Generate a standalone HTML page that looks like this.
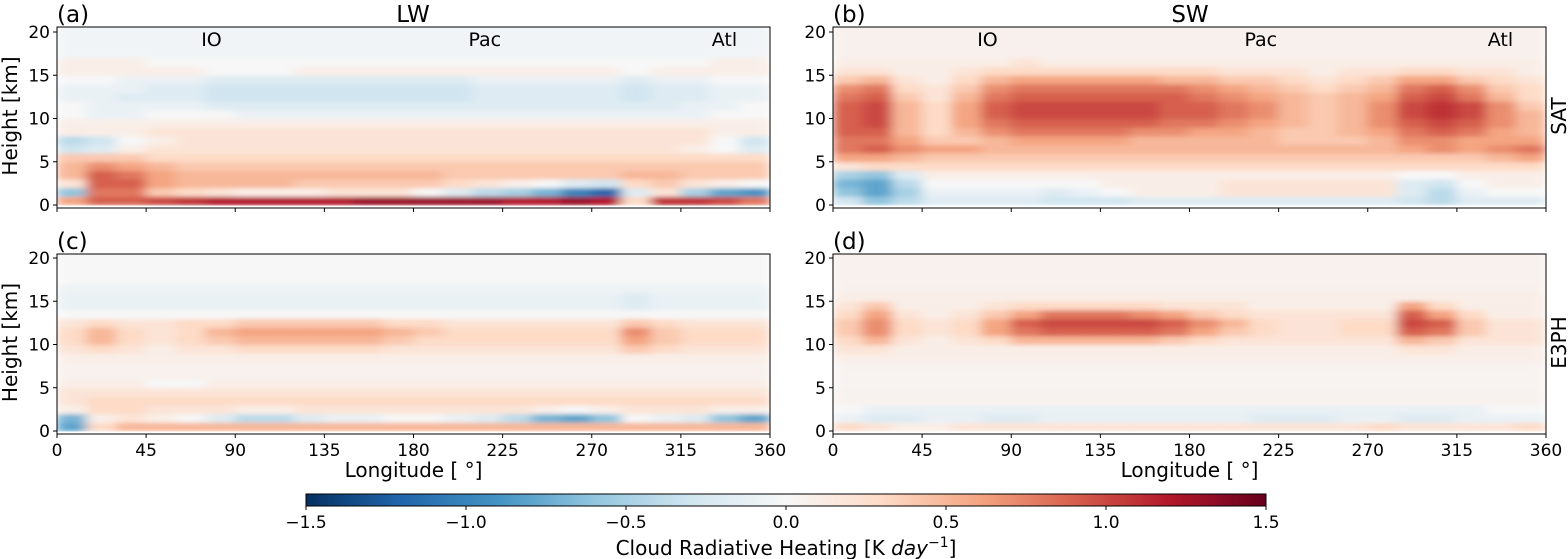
<!DOCTYPE html>
<html><head><meta charset="utf-8">
<style>
html,body{margin:0;padding:0;background:#fff;}
svg{display:block;font-family:"DejaVu Sans","Liberation Sans",sans-serif;}
</style></head>
<body>
<svg id="fig" width="1568" height="559" viewBox="0 0 1568 559" xmlns="http://www.w3.org/2000/svg">
<defs>
<filter id="blur" x="0" y="0" width="1" height="1"><feGaussianBlur stdDeviation="6 2" edgeMode="duplicate"/></filter>
<linearGradient id="cbgrad" x1="0" x2="1" y1="0" y2="0">
<stop offset="0" stop-color="#053061"/><stop offset="0.1" stop-color="#2166ac"/><stop offset="0.2" stop-color="#4393c3"/><stop offset="0.3" stop-color="#92c5de"/><stop offset="0.4" stop-color="#d1e5f0"/><stop offset="0.5" stop-color="#f7f7f7"/><stop offset="0.6" stop-color="#fddbc7"/><stop offset="0.7" stop-color="#f4a582"/><stop offset="0.8" stop-color="#d6604d"/><stop offset="0.9" stop-color="#b2182b"/><stop offset="1" stop-color="#67001f"/>
</linearGradient>
</defs>
<g id="layer"></g>
</svg>
<script>
// Longitude bin starts (degrees), 15-degree bins
const lonBins = [0,15,30,45,60,75,90,105,120,135,150,165,180,195,210,225,240,255,270,285,300,315,330,345];
// Height bin starts (km), 1-km bins
const heightBins = [0,1,2,3,4,5,6,7,8,9,10,11,12,13,14,15,16,17,18,19,20];
const xTicks = [0,45,90,135,180,225,270,315,360];
const yTicks = [0,5,10,15,20];
const cbTicks = [-1.5,-1.0,-0.5,0.0,0.5,1.0,1.5];
const cbTickLabels = ["\u22121.5","\u22121.0","\u22120.5","0.0","0.5","1.0","1.5"];
// values in tenths of K/day, rows from 0 km upward
const lwSat = [
[6,9,9,10,11,12,12,12,12,12,13,13,13,13,13,12,12,13,12,3,11,11,10,8],
[-6,8,8,4,3,2,1,1,1,2,2,2,0,-2,-4,-5,-7,-10,-12,-2,2,-5,-8,-9],
[2,9,9,6,5,5,5,5,4,4,4,4,4,3,2,1,0,-2,-3,3,4,2,1,0],
[5,9,8,6,5,5,5,5,5,5,5,5,5,4,4,4,4,4,4,5,5,4,4,4],
[5,7,6,5,4,4,4,4,4,4,4,4,4,4,4,4,4,4,4,4,4,4,4,4],
[4,4,4,3,3,3,3,3,3,3,3,3,3,3,3,3,3,3,3,3,3,3,3,3],
[-3,-2,1,2,2,2,2,2,2,2,2,2,2,2,2,2,2,2,2,2,2,1,0,-2],
[-4,-3,0,1,2,2,2,2,2,2,2,2,2,2,2,2,2,2,2,2,2,2,0,-3],
[1,1,1,2,2,2,2,2,2,2,2,2,2,2,2,2,2,2,2,2,2,2,1,1],
[1,1,1,1,1,1,1,1,1,1,1,1,1,1,1,1,1,1,1,1,1,1,1,1],
[0,-1,-1,0,0,0,-1,-1,-1,-1,-1,-1,-1,-1,-1,-1,-1,-1,-1,-1,-1,-1,0,0],
[0,-1,-1,-1,-1,-2,-2,-2,-2,-2,-2,-2,-2,-2,-2,-2,-2,-2,-2,-2,-2,-1,-1,0],
[-1,-1,-2,-2,-2,-3,-3,-3,-3,-3,-3,-3,-3,-3,-2,-2,-2,-2,-2,-3,-2,-2,-1,-1],
[-1,-1,-1,-2,-2,-3,-3,-3,-3,-3,-3,-3,-3,-3,-2,-2,-2,-2,-2,-3,-2,-2,-1,-1],
[0,0,-1,-1,-1,-2,-2,-2,-2,-2,-2,-2,-2,-2,-1,-1,-1,-1,-1,-2,-1,-1,0,0],
[1,1,1,1,1,0,0,0,1,1,1,1,1,1,1,1,1,1,1,0,1,1,1,1],
[1,1,1,0,0,0,0,0,0,0,0,0,0,0,0,0,0,0,0,0,0,0,1,1],
[-0.5,-0.5,-0.5,-0.5,-0.5,-0.5,-0.5,-0.5,-0.5,-0.5,-0.5,-0.5,-0.5,-0.5,-0.5,-0.5,-0.5,-0.5,-0.5,-0.5,-0.5,-0.5,-0.5,-0.5],
[-0.5,-0.5,-0.5,-0.5,-0.5,-0.5,-0.5,-0.5,-0.5,-0.5,-0.5,-0.5,-0.5,-0.5,-0.5,-0.5,-0.5,-0.5,-0.5,-0.5,-0.5,-0.5,-0.5,-0.5],
[-0.5,-0.5,-0.5,-0.5,-0.5,-0.5,-0.5,-0.5,-0.5,-0.5,-0.5,-0.5,-0.5,-0.5,-0.5,-0.5,-0.5,-0.5,-0.5,-0.5,-0.5,-0.5,-0.5,-0.5],
[-0.5,-0.5,-0.5,-0.5,-0.5,-0.5,-0.5,-0.5,-0.5,-0.5,-0.5,-0.5,-0.5,-0.5,-0.5,-0.5,-0.5,-0.5,-0.5,-0.5,-0.5,-0.5,-0.5,-0.5]
];
const swSat = [
[-3,-6,-4,-2,-2,-2,-2,-3,-3,-3,-2,-2,-2,-2,-2,-2,-2,-2,-2,-3,-4,-2,-2,-2],
[-6,-8,-5,-1,-1,-1,-1,-2,-1,0,1,1,1,2,2,2,2,2,2,-2,-4,-1,0,0],
[-7,-8,-4,0,0,0,0,0,0,1,1,1,1,2,2,2,2,2,2,-2,-3,0,1,1],
[-5,-6,-2,1,1,1,1,1,1,1,1,1,1,1,1,1,1,1,1,0,0,1,1,1],
[2,3,3,3,3,3,3,3,3,3,3,3,3,3,3,3,3,3,3,3,3,3,3,3],
[6,6,5,4,4,4,4,4,4,4,4,4,4,4,4,4,4,4,4,4,4,4,5,6],
[8,9,7,6,6,5,5,5,5,5,5,5,5,5,5,5,5,5,5,6,7,6,7,8],
[8,8,6,4,4,5,6,6,6,6,5,5,5,5,5,4,4,4,5,7,7,6,6,6],
[9,9,5,3,5,7,8,8,8,8,7,7,6,6,5,4,4,5,6,8,9,8,6,5],
[9,10,5,3,6,8,9,9,9,9,9,8,8,7,6,5,4,5,7,9,10,9,7,5],
[9,10,5,3,6,9,10,10,10,10,10,9,9,8,7,5,4,5,7,10,11,10,7,5],
[9,10,5,3,6,9,10,10,10,10,10,9,9,8,7,5,4,5,7,10,11,10,7,4],
[8,9,4,2,5,8,9,9,9,9,9,9,8,7,6,5,4,5,6,9,10,8,5,3],
[7,8,3,2,4,7,8,8,8,8,8,8,7,6,5,4,3,4,5,8,9,7,4,3],
[4,5,2,1,3,5,6,6,6,6,6,5,5,4,4,3,2,3,4,6,6,4,3,2],
[2,2,1,1,2,3,3,3,3,3,3,3,3,2,2,2,1,2,2,3,3,2,2,1],
[1,1,1,1,1,1,2,1,1,1,1,1,1,1,1,1,1,1,1,1,1,1,1,1],
[0.7,0.7,0.7,0.7,0.7,0.7,0.7,0.7,0.7,0.7,0.7,0.7,0.7,0.7,0.7,0.7,0.7,0.7,0.7,0.7,0.7,0.7,0.7,0.7],
[0.7,0.7,0.7,0.7,0.7,0.7,0.7,0.7,0.7,0.7,0.7,0.7,0.7,0.7,0.7,0.7,0.7,0.7,0.7,0.7,0.7,0.7,0.7,0.7],
[0.7,0.7,0.7,0.7,0.7,0.7,0.7,0.7,0.7,0.7,0.7,0.7,0.7,0.7,0.7,0.7,0.7,0.7,0.7,0.7,0.7,0.7,0.7,0.7],
[0.7,0.7,0.7,0.7,0.7,0.7,0.7,0.7,0.7,0.7,0.7,0.7,0.7,0.7,0.7,0.7,0.7,0.7,0.7,0.7,0.7,0.7,0.7,0.7]
];
const lwE3 = [
[-8,3,5,5,5,5,5,5,5,5,5,5,5,5,5,5,5,5,5,5,5,5,5,5],
[-7,1,2,1,0,-2,-4,-4,-2,-1,-1,0,0,-1,-2,-4,-7,-8,-6,0,-1,-2,-6,-8],
[1,3,3,2,2,2,1,1,2,2,2,2,2,2,2,2,1,0,1,2,2,2,1,1],
[2,3,3,3,3,3,3,3,3,3,3,3,3,3,3,3,3,3,3,3,3,3,3,3],
[2,2,2,2,2,2,2,2,2,2,2,2,2,2,2,2,2,2,2,2,2,2,2,2],
[1,1,1,0,0,1,1,1,1,1,1,1,1,1,1,1,1,1,1,1,1,1,1,1],
[0.6,0.6,0.6,0.6,0.6,0.6,0.6,0.6,0.6,0.6,0.6,0.6,0.6,0.6,0.6,0.6,0.6,0.6,0.6,0.6,0.6,0.6,0.6,0.6],
[0.6,0.6,0.6,0.6,0.6,0.6,0.6,0.6,0.6,0.6,0.6,0.6,0.6,0.6,0.6,0.6,0.6,0.6,0.6,0.6,0.6,0.6,0.6,0.6],
[1,1,1,1,1,1,1,1,1,1,1,1,1,1,1,1,1,1,1,1,1,1,1,1],
[2,3,2,1,2,2,3,3,3,3,3,2,2,2,2,2,2,2,2,4,3,2,2,2],
[3,5,3,2,3,4,5,5,5,5,5,4,3,3,3,3,3,3,3,6,4,3,3,3],
[3,5,3,2,3,5,6,6,6,6,6,5,4,3,3,3,3,3,3,7,4,3,3,3],
[2,3,2,2,3,3,4,4,4,4,4,3,3,2,2,2,2,2,2,4,3,2,2,2],
[0,0,0,0,0,0,0,0,0,0,0,0,0,0,0,0,0,0,0,0,0,0,0,0],
[-1,-1,-1,-1,-1,-1,-1,-1,-1,-1,-1,-1,-1,-1,-1,-1,-1,-1,-1,-2,-1,-1,-1,-1],
[-1,-1,-1,-1,-1,-1,-1,-1,-1,-1,-1,-1,-1,-1,-1,-1,-1,-1,-1,-2,-1,-1,-1,-1],
[-0.7,-0.7,-0.7,-0.7,-0.7,-0.7,-0.7,-0.7,-0.7,-0.7,-0.7,-0.7,-0.7,-0.7,-0.7,-0.7,-0.7,-0.7,-0.7,-0.7,-0.7,-0.7,-0.7,-0.7],
[0,0,0,0,0,0,0,0,0,0,0,0,0,0,0,0,0,0,0,0,0,0,0,0],
[0,0,0,0,0,0,0,0,0,0,0,0,0,0,0,0,0,0,0,0,0,0,0,0],
[0,0,0,0,0,0,0,0,0,0,0,0,0,0,0,0,0,0,0,0,0,0,0,0],
[0,0,0,0,0,0,0,0,0,0,0,0,0,0,0,0,0,0,0,0,0,0,0,0]
];
const swE3 = [
[3,2,1,1,2,2,2,2,2,2,2,2,2,2,2,2,2,2,3,2,2,2,2,3],
[-1,-2,-2,-1,-1,-2,-2,-1,-1,-1,-1,-1,-1,-1,-2,-2,-2,-1,-1,-2,-2,-1,-1,-1],
[0,-1,-1,-1,-1,-1,-1,-1,-1,-1,-1,-1,-1,-1,-1,-1,-1,-1,-1,-1,-1,-1,0,0],
[0.5,0.5,0.5,0.5,0.5,0.5,0.5,0.5,0.5,0.5,0.5,0.5,0.5,0.5,0.5,0.5,0.5,0.5,0.5,0.5,0.5,0.5,0.5,0.5],
[0.5,0.5,0.5,0.5,0.5,0.5,0.5,0.5,0.5,0.5,0.5,0.5,0.5,0.5,0.5,0.5,0.5,0.5,0.5,0.5,0.5,0.5,0.5,0.5],
[0.4,0.4,0.4,0.4,0.4,0.4,0.4,0.4,0.4,0.4,0.4,0.4,0.4,0.4,0.4,0.4,0.4,0.4,0.4,0.4,0.4,0.4,0.4,0.4],
[0.4,0.4,0.4,0.4,0.4,0.4,0.4,0.4,0.4,0.4,0.4,0.4,0.4,0.4,0.4,0.4,0.4,0.4,0.4,0.4,0.4,0.4,0.4,0.4],
[0.5,0.5,0.5,0.5,0.5,0.5,0.5,0.5,0.5,0.5,0.5,0.5,0.5,0.5,0.5,0.5,0.5,0.5,0.5,0.5,0.5,0.5,0.5,0.5],
[1,1,1,1,1,1,1,1,1,1,1,1,1,1,1,1,1,1,1,1,1,1,1,1],
[2,2,1,1,1,1,1,1,1,1,1,1,1,1,1,1,1,1,1,2,2,1,1,1],
[3,5,2,1,2,3,5,5,5,5,5,4,3,2,2,2,2,2,2,5,4,2,2,2],
[4,7,3,2,3,6,8,9,9,9,9,8,6,4,3,2,2,3,3,9,8,4,2,2],
[4,7,3,2,3,6,9,10,10,10,10,9,7,5,3,2,2,3,3,10,9,4,2,2],
[3,6,2,1,2,4,6,8,8,8,7,6,4,3,2,2,2,2,2,9,6,3,1,1],
[2,4,1,1,1,2,3,3,3,3,3,2,2,2,1,1,1,1,1,6,3,1,1,1],
[1,1,1,1,1,1,1,1,1,1,1,1,1,1,1,1,1,1,1,1,1,1,1,1],
[0.7,0.7,0.7,0.7,0.7,0.7,0.7,0.7,0.7,0.7,0.7,0.7,0.7,0.7,0.7,0.7,0.7,0.7,0.7,0.7,0.7,0.7,0.7,0.7],
[0.6,0.6,0.6,0.6,0.6,0.6,0.6,0.6,0.6,0.6,0.6,0.6,0.6,0.6,0.6,0.6,0.6,0.6,0.6,0.6,0.6,0.6,0.6,0.6],
[0.6,0.6,0.6,0.6,0.6,0.6,0.6,0.6,0.6,0.6,0.6,0.6,0.6,0.6,0.6,0.6,0.6,0.6,0.6,0.6,0.6,0.6,0.6,0.6],
[0.6,0.6,0.6,0.6,0.6,0.6,0.6,0.6,0.6,0.6,0.6,0.6,0.6,0.6,0.6,0.6,0.6,0.6,0.6,0.6,0.6,0.6,0.6,0.6],
[0.6,0.6,0.6,0.6,0.6,0.6,0.6,0.6,0.6,0.6,0.6,0.6,0.6,0.6,0.6,0.6,0.6,0.6,0.6,0.6,0.6,0.6,0.6,0.6]
];
const regionLabels = ["IO","Pac","Atl"];
const regionLons = [78,216,337];

const NS = "http://www.w3.org/2000/svg";
const layer = document.getElementById("layer");
const stops = ["#053061","#2166ac","#4393c3","#92c5de","#d1e5f0","#f7f7f7","#fddbc7","#f4a582","#d6604d","#b2182b","#67001f"];
function hex(c){return [parseInt(c.slice(1,3),16),parseInt(c.slice(3,5),16),parseInt(c.slice(5,7),16)];}
function cmap(v){
  let t=(v+1.5)/3; t=Math.max(0,Math.min(1,t));
  const p=t*10; const i=Math.min(9,Math.floor(p)); const f=p-i;
  const a=hex(stops[i]), b=hex(stops[i+1]);
  return "rgb("+a.map((x,k)=>Math.round(x+(b[k]-x)*f)).join(",")+")";
}
function mk(tag, attrs, parent){
  const e=document.createElementNS(NS,tag);
  for(const k in attrs) e.setAttribute(k,attrs[k]);
  (parent||layer).appendChild(e); return e;
}
const W=713, KM=8.65;
const panels = [
  {data:lwSat, x0:57, yBase:205, top:27, label:"(a)", name:"panel-a-lw-sat", xlabels:false},
  {data:swSat, x0:833, yBase:205, top:27, label:"(b)", name:"panel-b-sw-sat", xlabels:false},
  {data:lwE3, x0:57, yBase:431, top:254, label:"(c)", name:"panel-c-lw-e3ph", xlabels:true},
  {data:swE3, x0:833, yBase:431, top:254, label:"(d)", name:"panel-d-sw-e3ph", xlabels:true}
];
panels.forEach((p,pi)=>{
  const xs = lon => p.x0 + lon/360*W;
  const ys = h => p.yBase - h*KM;
  const g=mk("g",{});
  
  
  const cp=mk("clipPath",{id:"cp"+pi},g);
  mk("rect",{x:p.x0,y:p.top,width:W,height:p.yBase+3-p.top},cp);
  const hg=mk("g",{"clip-path":"url(#cp"+pi+")"},g);
  const hm=mk("g",{filter:"url(#blur)"},hg);
  
  
  p.data.forEach((row,ri)=>{
    row.forEach((v,ci)=>{
      const x1=xs(lonBins[ci]), x2=xs(lonBins[ci]+15);
      const y1=ys(heightBins[ri]+1), y2=ys(heightBins[ri]);
      const r=mk("rect",{x:x1-0.5,y:y1-0.5,width:x2-x1+1,height:y2-y1+1,fill:cmap(v/10)},hm);
      
      
    });
  });
  const fr=mk("rect",{x:p.x0,y:p.top,width:W,height:p.yBase+3-p.top,fill:"none",stroke:"#000","stroke-width":1},g);
  
  
  const yb=p.yBase+3;
  xTicks.forEach(t=>{
    mk("line",{x1:xs(t),x2:xs(t),y1:yb,y2:yb+4,stroke:"#000"},g);
    if(p.xlabels){
      const tx=mk("text",{x:xs(t),y:yb+22,"font-size":17,"text-anchor":"middle"},g);
      tx.textContent=t;
      
      
    }
  });
  yTicks.forEach(t=>{
    mk("line",{x1:p.x0-4,x2:p.x0,y1:ys(t),y2:ys(t),stroke:"#000"},g);
    const tx=mk("text",{x:p.x0-7,y:ys(t)+6,"font-size":17,"text-anchor":"end"},g);
    tx.textContent=t;
    
    
  });
  const pl=mk("text",{x:p.x0,y:p.top-5,"font-size":23},g);
  pl.textContent=p.label;
  
  
  if(pi<2){
    regionLabels.forEach((r,k)=>{
      const t=mk("text",{x:xs(regionLons[k]),y:p.top+19,"font-size":19,"text-anchor":"middle"},g);
      t.textContent=r;
      
      
    });
  }
  if(pi%2===0){
    const yl=mk("text",{transform:"translate(17,"+((p.top+p.yBase)/2)+") rotate(-90)","font-size":20,"text-anchor":"middle"},g);
    yl.textContent="Height [km]";
    
    
  } else {
    const rl=mk("text",{transform:"translate(1566,"+((p.top+p.yBase)/2)+") rotate(-90)","font-size":20,"text-anchor":"middle"},g);
    rl.textContent= pi===1 ? "SAT" : "E3PH";
    
    
  }
  if(p.xlabels){
    const xl=mk("text",{x:p.x0+W/2,y:477,"font-size":20,"text-anchor":"middle"},g);
    xl.textContent="Longitude [ \u00b0]";
    
    
  }
});
[["LW",413],["SW",1190]].forEach(([s,x])=>{
  const t=mk("text",{x:x,y:22,"font-size":23,"text-anchor":"middle"});
  t.textContent=s;
  
  
});
const cb=mk("g",{});


const CBX=306, CBW=960, CBY=494, CBH=12;
const cbs = v => CBX + (v+1.5)/3*CBW;
mk("rect",{x:CBX,y:CBY,width:CBW,height:CBH,fill:"url(#cbgrad)",stroke:"#000","stroke-width":1},cb);
cbTicks.forEach((t,i)=>{
  mk("line",{x1:cbs(t),x2:cbs(t),y1:CBY+CBH,y2:CBY+CBH+4,stroke:"#000"},cb);
  const tx=mk("text",{x:cbs(t),y:CBY+CBH+22,"font-size":17,"text-anchor":"middle"},cb);
  tx.textContent=cbTickLabels[i];
  
  
});
const cbl=mk("text",{x:786,y:555,"font-size":20,"text-anchor":"middle"},cb);
cbl.innerHTML='Cloud Radiative Heating [K <tspan font-style="italic">day</tspan><tspan dy="-8" font-size="14">\u22121</tspan><tspan dy="8">]</tspan>';


</script>
</body></html>
